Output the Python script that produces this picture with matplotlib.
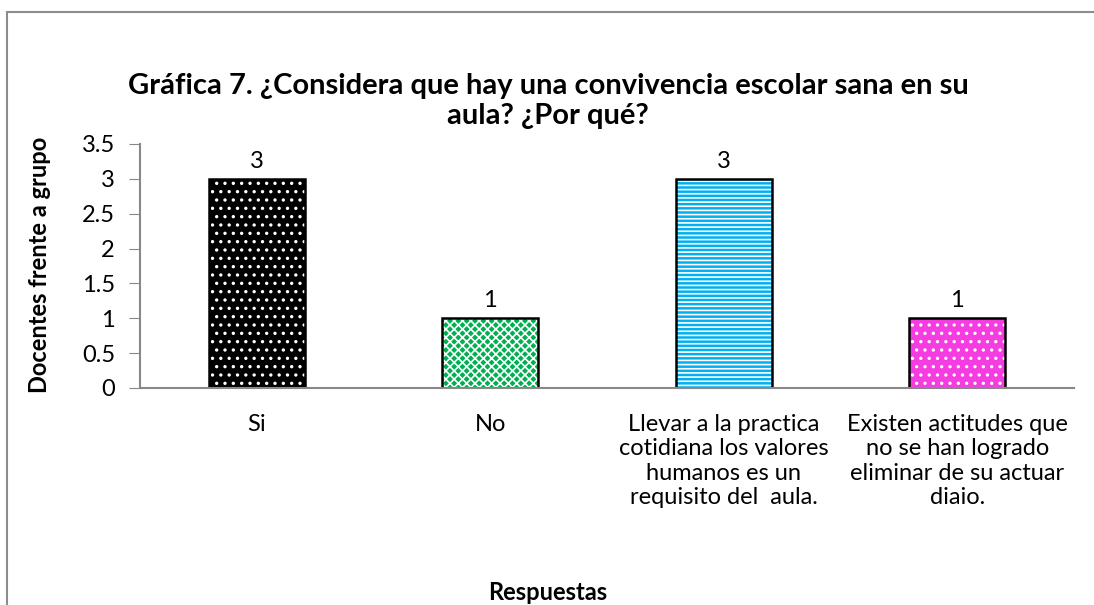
import matplotlib.pyplot as plt
from matplotlib.patches import Rectangle

categories = [
    "Si",
    "No",
    "Llevar a la practica\ncotidiana los valores\nhumanos es un\nrequisito del  aula.",
    "Existen actitudes que\nno se han logrado\neliminar de su actuar\ndiaio.",
]
values = [3, 1, 3, 1]
colors = ["#000000", "#00B050", "#00B0F0", "#F43CE0"]
hatches = ["..", "xxxx", "----", ".."]

TITLE = "Gráfica 7. ¿Considera que hay una convivencia escolar sana en su\naula? ¿Por qué?"

plt.rcParams["font.family"] = ["Lato", "DejaVu Sans"]
plt.rcParams["hatch.linewidth"] = 1.2

fig = plt.figure(figsize=(10.94, 6.05), dpi=100)
W, H = 1094, 605
ax = fig.add_axes([140 / W, 1 - 388 / H, (1074 - 140) / W, (388 - 144) / H])

x = range(len(categories))
# patterned fill, then a separate black outline
for xi, v, c, h in zip(x, values, colors, hatches):
    ax.bar(xi, v, width=0.41, color=c, edgecolor="white", hatch=h, linewidth=0)
ax.bar(x, values, width=0.41, fill=False, edgecolor="black", linewidth=1.8)

for xi, v in zip(x, values):
    ax.text(xi, v + 0.1, str(v), ha="center", va="bottom", fontsize=17)

ax.set_xlim(-0.5, len(categories) - 0.5)
ax.set_ylim(0, 3.5)
ax.set_yticks([0, 0.5, 1, 1.5, 2, 2.5, 3, 3.5])
ax.set_yticklabels(["0", "0.5", "1", "1.5", "2", "2.5", "3", "3.5"])
ax.set_xticks(list(x))
ax.set_xticklabels(categories, fontsize=17, linespacing=1.18, va="top")
ax.tick_params(axis="x", length=0, pad=19)
ax.tick_params(axis="y", length=8, color="#888888", labelsize=17, pad=10, direction="out")
for s in ["top", "right"]:
    ax.spines[s].set_visible(False)
for s in ["left", "bottom"]:
    ax.spines[s].set_color("#888888")
    ax.spines[s].set_linewidth(1.5)

fig.text(548 / W, 1 - 101 / H, TITLE, ha="center", va="center",
         fontsize=21, fontweight="bold", linespacing=1.2)
fig.text(40 / W, 1 - 265 / H, "Docentes frente a grupo", rotation=90,
         ha="center", va="center", fontsize=17, fontweight="bold")
fig.text(548 / W, 1 - 592 / H, "Respuestas", ha="center", va="center",
         fontsize=17, fontweight="bold")

# outer chart frame (bottom and right fall outside the picture)
fig.patches.append(Rectangle((7 / W, -0.1), 1.2, 1 - 12 / H + 0.1,
                             transform=fig.transFigure, fill=False,
                             edgecolor="#8C8C8C", linewidth=1.5))

fig.savefig("out.png", dpi=100)
